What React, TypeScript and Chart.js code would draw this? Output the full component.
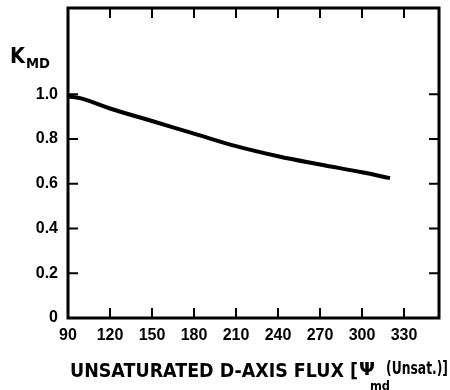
import React, { useEffect, useRef } from "react";
import { Chart, registerables } from "chart.js";

Chart.register(...registerables);

const fluxValues = [90, 100, 120, 150, 180, 210, 240, 270, 300, 320];
const kmdValues = [0.99, 0.98, 0.936, 0.88, 0.824, 0.768, 0.723, 0.686, 0.651, 0.625];
const xTickValues = [90, 120, 150, 180, 210, 240, 270, 300, 330];
const yTickValues = [0, 0.2, 0.4, 0.6, 0.8, 1.0];
const xMin = 90;
const xMax = 355;
const yMin = 0;
const yMax = 1.385;

const FONT = "'Liberation Sans Narrow', 'Liberation Sans', Arial, sans-serif";
const TITLE_FONT = "'DejaVu Sans', 'Liberation Sans', sans-serif";

function fitText(ctx: CanvasRenderingContext2D, text: string, x: number, baseline: number, size: number, width: number, family: string) {
  ctx.save();
  ctx.font = `bold ${size}px ${family}`;
  const w = ctx.measureText(text).width;
  ctx.translate(x, baseline);
  ctx.scale(width / w, 1);
  ctx.textBaseline = "alphabetic";
  ctx.textAlign = "left";
  ctx.fillText(text, 0, 0);
  ctx.restore();
}

const framePlugin = {
  id: "framePlugin",
  afterDraw(chart: any) {
    const ctx: CanvasRenderingContext2D = chart.ctx;
    const { left, right, top, bottom } = chart.chartArea;
    const xs = chart.scales.x;
    const ys = chart.scales.y;
    ctx.save();
    ctx.strokeStyle = "#000";
    ctx.fillStyle = "#000";
    ctx.lineWidth = 3;
    ctx.lineCap = "square";
    ctx.strokeRect(left, top, right - left, bottom - top);
    ctx.lineWidth = 2;
    ctx.lineCap = "butt";
    const tl = 10;
    xTickValues.forEach((v) => {
      if (v === xMin) return;
      const px = xs.getPixelForValue(v);
      ctx.beginPath();
      ctx.moveTo(px, bottom);
      ctx.lineTo(px, bottom - tl);
      ctx.moveTo(px, top);
      ctx.lineTo(px, top + tl);
      ctx.stroke();
    });
    yTickValues.forEach((v) => {
      if (v === yMin) return;
      const py = ys.getPixelForValue(v);
      ctx.beginPath();
      ctx.moveTo(left, py);
      ctx.lineTo(left + tl, py);
      ctx.moveTo(right, py);
      ctx.lineTo(right - tl, py);
      ctx.stroke();
    });
    // Y label K_MD
    fitText(ctx, "K", 10, 63, 22, 15, TITLE_FONT);
    fitText(ctx, "MD", 26, 68, 14, 24, TITLE_FONT);
    // X title
    fitText(ctx, "UNSATURATED D-AXIS FLUX [", 70, 377, 19, 288, TITLE_FONT);
    fitText(ctx, "\u03A8", 359, 375, 18, 16, TITLE_FONT);
    fitText(ctx, "md", 370, 390, 13, 20, TITLE_FONT);
    fitText(ctx, "(Unsat.)]", 386, 374, 17, 62, TITLE_FONT);
    ctx.restore();
  },
};

export default function App() {
  const ref = useRef<HTMLCanvasElement | null>(null);
  useEffect(() => {
    if (!ref.current) return;
    const chart = new Chart(ref.current, {
      type: "line",
      data: {
        datasets: [
          {
            data: fluxValues.map((x, i) => ({ x, y: kmdValues[i] })),
            borderColor: "#000",
            borderWidth: 4,
            pointRadius: 0,
            tension: 0.4,
            fill: false,
          },
        ],
      },
      options: {
        animation: false,
        responsive: false,
        maintainAspectRatio: false,
        layout: { padding: { top: 8, right: 11, left: 0, bottom: 0 } },
        plugins: { legend: { display: false }, tooltip: { enabled: false } },
        scales: {
          x: {
            type: "linear",
            min: xMin,
            max: xMax,
            grid: { display: false, drawTicks: false },
            border: { display: false },
            afterBuildTicks: (s: any) => {
              s.ticks = xTickValues.map((value) => ({ value }));
            },
            afterFit: (s: any) => {
              s.height = 72;
              s.paddingLeft = 0;
              s.paddingRight = 0;
            },
            ticks: {
              color: "#000",
              padding: 8,
              maxRotation: 0,
              autoSkip: false,
              font: { family: FONT, weight: "bold", size: 16 },
              callback: (v: any) => String(v),
            },
          },
          y: {
            type: "linear",
            min: yMin,
            max: yMax,
            grid: { display: false, drawTicks: false },
            border: { display: false },
            afterBuildTicks: (s: any) => {
              s.ticks = yTickValues.map((value) => ({ value }));
            },
            afterFit: (s: any) => {
              s.width = 68;
              s.paddingTop = 0;
              s.paddingBottom = 0;
            },
            ticks: {
              color: "#000",
              padding: 10,
              autoSkip: false,
              font: { family: FONT, weight: "bold", size: 16 },
              callback: (v: any) => (v === 0 ? "0" : Number(v).toFixed(1)),
            },
          },
        },
      },
      plugins: [framePlugin],
    } as any);
    return () => chart.destroy();
  }, []);
  return (
    <div style={{ position: "fixed", left: 0, top: 0, width: 450, height: 390, background: "#fff" }}>
      <canvas ref={ref} width={450} height={390} style={{ display: "block" }} />
    </div>
  );
}
